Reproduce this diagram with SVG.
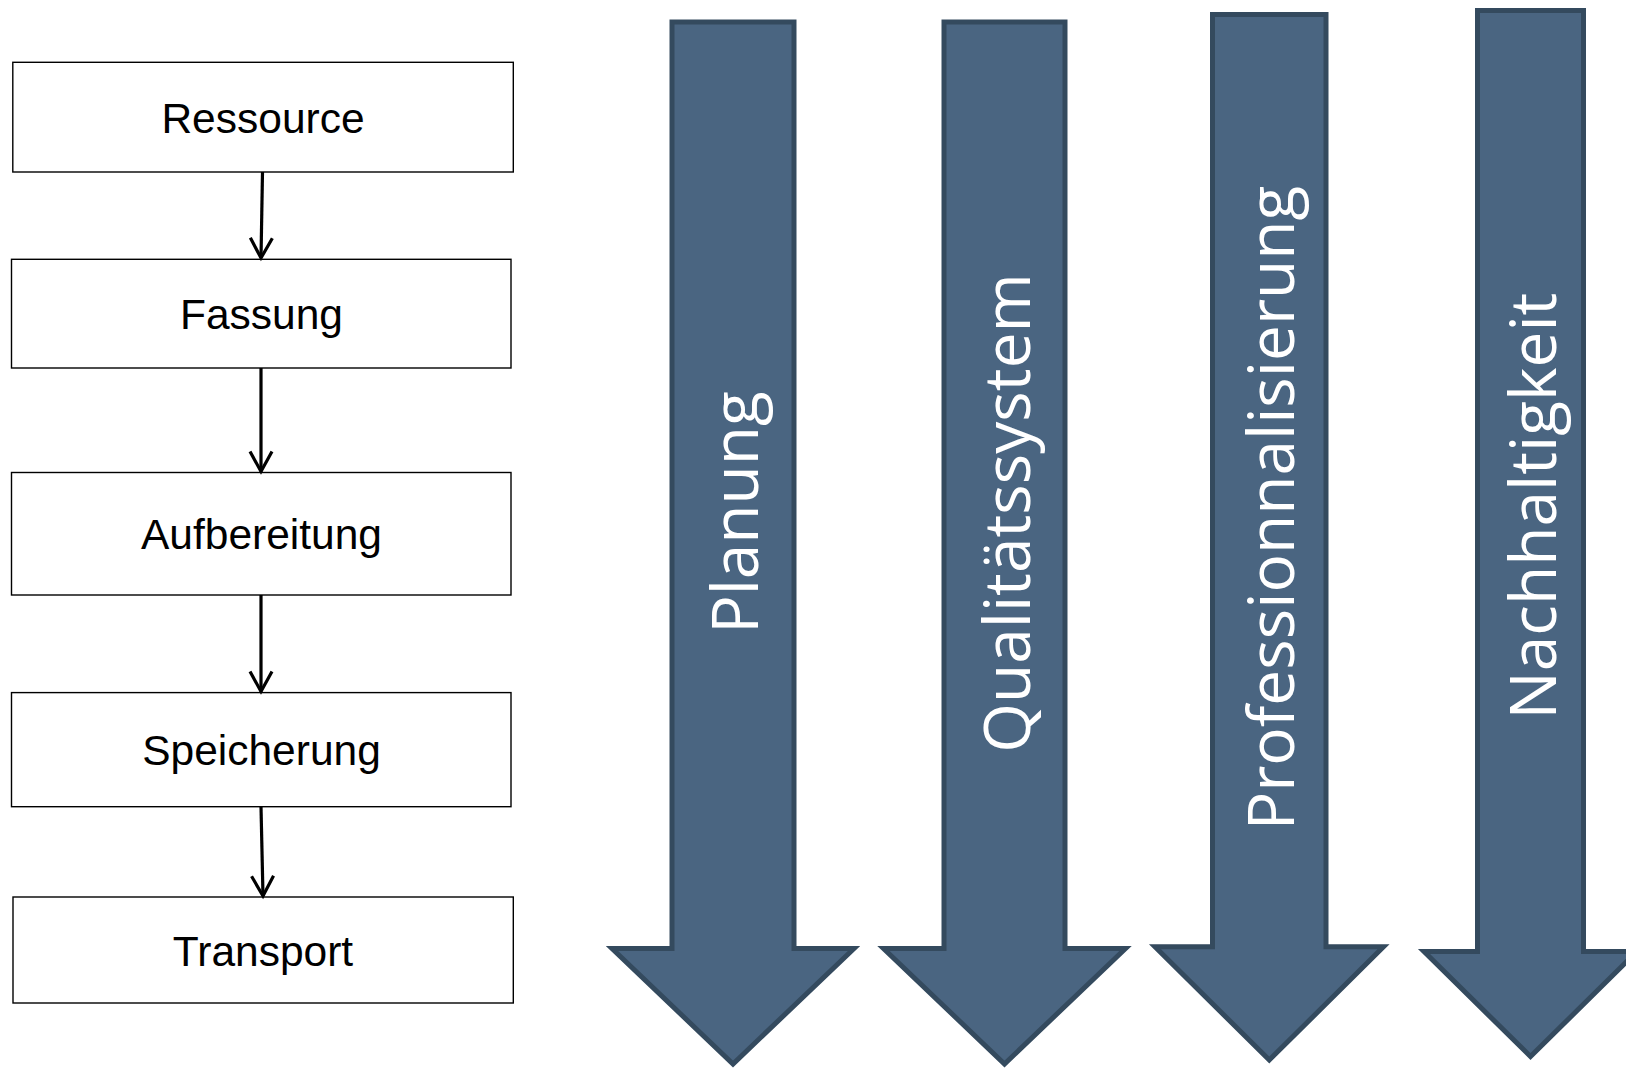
<svg xmlns="http://www.w3.org/2000/svg" width="1626" height="1069" viewBox="0 0 1626 1069">
<style>
.box{fill:#fff;stroke:#000;stroke-width:1.4}
.lbl{font-family:"Liberation Sans",Arial,sans-serif;font-size:42.5px;fill:#000;text-anchor:middle}
.conn{stroke:#000;stroke-width:3.2;fill:none}
.big{fill:#4A6581;stroke:#344A5E;stroke-width:5;stroke-linejoin:miter;stroke-miterlimit:10}
.blbl{font-family:"Open Sans","Noto Sans",sans-serif;font-size:64px;fill:#fff;text-anchor:middle}
</style>
<defs>
<marker id="ah" markerUnits="userSpaceOnUse" markerWidth="30" markerHeight="30" viewBox="-25 -15 30 30" refX="0" refY="0" orient="auto" overflow="visible">
<path d="M-20,-11 L0,0 L-20,11" fill="none" stroke="#000" stroke-width="3.2"/>
</marker>
</defs>
<rect width="1626" height="1069" fill="#fff"/>
<g id="node-ressource"><rect class="box" x="12.8" y="62.3" width="500.5" height="109.7"/><text class="lbl" x="263" y="132.5">Ressource</text></g>
<g id="node-fassung"><rect class="box" x="11.5" y="259.3" width="499.5" height="108.7"/><text class="lbl" x="261.5" y="329">Fassung</text></g>
<g id="node-aufbereitung"><rect class="box" x="11.5" y="472.5" width="499.5" height="122.5"/><text class="lbl" x="261.5" y="549">Aufbereitung</text></g>
<g id="node-speicherung"><rect class="box" x="11.5" y="692.6" width="499.5" height="114.1"/><text class="lbl" x="261.5" y="765.3">Speicherung</text></g>
<g id="node-transport"><rect class="box" x="13" y="897" width="500.3" height="106"/><text class="lbl" x="263" y="966">Transport</text></g>
<g id="connectors">
<line class="conn" x1="262.5" y1="172" x2="261" y2="258" marker-end="url(#ah)"/>
<line class="conn" x1="261" y1="368" x2="261" y2="471.5" marker-end="url(#ah)"/>
<line class="conn" x1="261" y1="595" x2="261" y2="691.5" marker-end="url(#ah)"/>
<line class="conn" x1="261" y1="806.7" x2="263" y2="896" marker-end="url(#ah)"/>
</g>
<g id="arrow-planung"><path class="big" d="M672,22 H794 V948.5 H854 L733,1064 L612,948.5 H672 Z"/><text class="blbl" transform="translate(758,512.5) rotate(-90)">Planung</text></g>
<g id="arrow-qualitaetssystem"><path class="big" d="M944,22 H1065 V948.5 H1125.5 L1004.5,1064 L883.5,948.5 H944 Z"/><text class="blbl" transform="translate(1029.5,513) rotate(-90)">Qualitätssystem</text></g>
<g id="arrow-professionnalisierung"><path class="big" d="M1212.5,14.5 H1326 V946.8 H1383.5 L1269.3,1060 L1155,946.8 H1212.5 Z"/><text class="blbl" transform="translate(1294,508) rotate(-90)">Professionnalisierung</text></g>
<g id="arrow-nachhaltigkeit"><path class="big" d="M1477.5,10.5 H1583.5 V951.5 H1637 L1530.5,1056.5 L1424,951.5 H1477.5 Z"/><text class="blbl" transform="translate(1555.5,506) rotate(-90)">Nachhaltigkeit</text></g>
</svg>
